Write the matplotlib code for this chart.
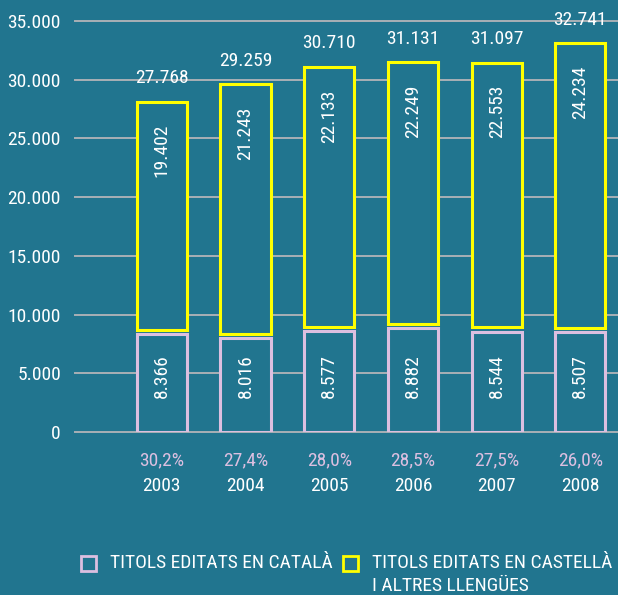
import matplotlib.pyplot as plt
from matplotlib.patches import Rectangle
from matplotlib.ticker import FuncFormatter

# dades
years = ["2003", "2004", "2005", "2006", "2007", "2008"]
catala = [8366, 8016, 8577, 8882, 8544, 8507]
castella = [19402, 21243, 22133, 22249, 22553, 24234]
totals = [27768, 29259, 30710, 31131, 31097, 32741]
pct_catala = ["30,2%", "27,4%", "28,0%", "28,5%", "27,5%", "26,0%"]
yticks = [0, 5000, 10000, 15000, 20000, 25000, 30000, 35000]

BG = "#21758f"
LAV = "#dcbfe0"
YEL = "#ffff00"
GRID = "#a9b0b6"
GAP = 350  # petit espai entre els dos trams


def punts(v):
    return f"{int(v):,}".replace(",", ".")


plt.rcParams["font.family"] = ["Roboto Condensed", "DejaVu Sans"]
plt.rcParams["font.size"] = 14

fig = plt.figure(figsize=(6.18, 5.95), dpi=100, facecolor=BG)
ax = fig.add_axes([0.121, 0.274, 0.879, 0.691])
ax.set_facecolor(BG)

x = list(range(len(years)))
width = 0.6

ax.bar(x, catala, width=width, color=BG, edgecolor=LAV, linewidth=2.2, zorder=3)
bottoms = [c + GAP for c in catala]
ax.bar(x, castella, width=width, bottom=bottoms, color=BG, edgecolor=YEL,
       linewidth=2.2, zorder=3)

for i in x:
    top = bottoms[i] + castella[i]
    ax.annotate(punts(catala[i]), (i, 2900), rotation=90,
                ha="center", va="bottom", color="white", zorder=4)
    ax.annotate(punts(castella[i]), (i, top), xytext=(0, -16),
                textcoords="offset points", rotation=90, ha="center", va="top",
                color="white", zorder=4)
    ax.annotate(punts(totals[i]), (i, top), xytext=(0, 17),
                textcoords="offset points", ha="center", va="center",
                color="white")
    ax.annotate(pct_catala[i], (i, -0.068), xycoords=("data", "axes fraction"),
                ha="center", va="center", color=LAV, annotation_clip=False)
    ax.annotate(years[i], (i, -0.131), xycoords=("data", "axes fraction"),
                ha="center", va="center", color="white", annotation_clip=False)

ax.set_xlim(-1.04, 5.45)
ax.set_ylim(0, 35000)
ax.set_yticks(yticks)
ax.yaxis.set_major_formatter(FuncFormatter(lambda v, p: punts(v)))
ax.set_xticks([])
ax.tick_params(axis="y", length=0, pad=10, labelcolor="white")
ax.grid(axis="y", color=GRID, linewidth=1.4, zorder=1)
ax.set_axisbelow(True)
for gl in ax.get_ygridlines():
    gl.set_clip_on(False)
for s in ax.spines.values():
    s.set_visible(False)

# llegenda
fig.add_artist(Rectangle((81 / 618, 1 - 571 / 595), 15 / 618, 15 / 595,
                         transform=fig.transFigure, facecolor=BG, edgecolor=LAV,
                         linewidth=2))
fig.text(110 / 618, 1 - 563 / 595, "TITOLS EDITATS EN CATALÀ", color="white",
         ha="left", va="center")
fig.add_artist(Rectangle((343 / 618, 1 - 571 / 595), 15 / 618, 15 / 595,
                         transform=fig.transFigure, facecolor=BG, edgecolor=YEL,
                         linewidth=2))
fig.text(372 / 618, 1 - 563 / 595, "TITOLS EDITATS EN CASTELLÀ", color="white",
         ha="left", va="center")
fig.text(372 / 618, 1 - 586 / 595, "I ALTRES LLENGÜES", color="white",
         ha="left", va="center")

fig.savefig("out.png", dpi=100, facecolor=BG)
